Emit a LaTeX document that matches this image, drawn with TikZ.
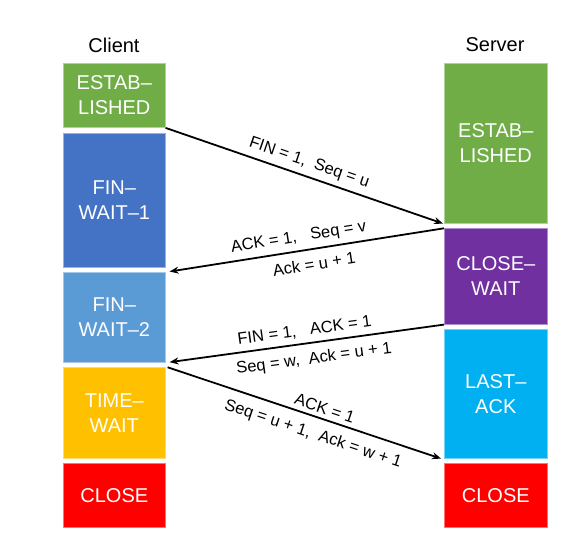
\documentclass[tikz,border=0pt]{standalone}
\usepackage{fontspec}
\setmainfont{Liberation Sans}
\usetikzlibrary{arrows.meta}
\definecolor{cgreen}{HTML}{70AD47}
\definecolor{cblue}{HTML}{4472C4}
\definecolor{clblue}{HTML}{5B9BD5}
\definecolor{cyellow}{HTML}{FFC000}
\definecolor{cred}{HTML}{FF0000}
\definecolor{cpurple}{HTML}{7030A0}
\definecolor{ccyan}{HTML}{00B0F0}
\tikzset{
  state/.style={rectangle, fill=#1, draw=#1!55!white, line width=0.6pt, text=white,
    align=center, font=\fontsize{20}{25}\selectfont, inner sep=0pt},
  head/.style={font=\fontsize{20}{24}\selectfont, text=black},
  msg/.style={draw=black, line width=1.8pt, -{Stealth[length=9pt,width=7pt]}, shorten >=1pt},
  lbl/.style={font=\fontsize{16.5}{19}\selectfont, sloped, inner sep=2pt}
}
\begin{document}
\begin{tikzpicture}[x=1pt,y=-1pt]
\useasboundingbox (0,0) rectangle (588,532);
\node[head] (client) at (114,45) {Client};
\node[head] (server) at (495,45) {Server};
% client
\node[state=cgreen, minimum width=102pt, minimum height=64pt, anchor=north west] (ce) at (63,63.3) {ESTAB–\\LISHED};
\node[state=cblue, minimum width=102pt, minimum height=133.4pt, anchor=north west] (fw1) at (63,133.3) {FIN–\\WAIT–1};
\node[state=clblue, minimum width=102pt, minimum height=90pt, anchor=north west] (fw2) at (63,271.7) {FIN–\\WAIT–2};
\node[state=cyellow, minimum width=102pt, minimum height=91pt, anchor=north west] (tw) at (63,367.3) {TIME–\\WAIT};
\node[state=cred, minimum width=102pt, minimum height=64pt, anchor=north west] (cc) at (63,463.3) {CLOSE};
% server
\node[state=cgreen, minimum width=103pt, minimum height=160pt, anchor=north west] (se) at (444,63.3) {ESTAB–\\LISHED};
\node[state=cpurple, minimum width=103pt, minimum height=95.7pt, anchor=north west] (cw) at (444,228.3) {CLOSE–\\WAIT};
\node[state=ccyan, minimum width=103pt, minimum height=129.3pt, anchor=north west] (la) at (444,329) {LAST–\\ACK};
\node[state=cred, minimum width=103pt, minimum height=64pt, anchor=north west] (sc) at (444,463.3) {CLOSE};
% messages
\draw[msg] (ce.south east) -- (se.south west)
  node[lbl, above=3pt, pos=0.5] (m1a) {FIN = 1,\ \ Seq = u};
\draw[msg] (cw.north west) -- ([xshift=3pt]fw2.north east)
  node[lbl, above=3pt, pos=0.52] (m2a) {ACK = 1,\ \ \ Seq = v}
  node[lbl, below=6pt, pos=0.48] (m2b) {Ack = u + 1};
\draw[msg] (cw.south west) -- ([xshift=3pt]fw2.south east)
  node[lbl, above=3pt, pos=0.5] (m3a) {FIN = 1,\ \ \ ACK = 1}
  node[lbl, below=6pt, pos=0.48] (m3b) {Seq = w,\ \ Ack = u + 1};
\draw[msg] ([xshift=2pt]tw.north east) -- ([xshift=-2pt]la.south west)
  node[lbl, above=2pt, pos=0.56] (m4a) {ACK = 1}
  node[lbl, below=7pt, pos=0.55] (m4b) {Seq = u + 1,\ \ Ack = w + 1};
\end{tikzpicture}
\end{document}
